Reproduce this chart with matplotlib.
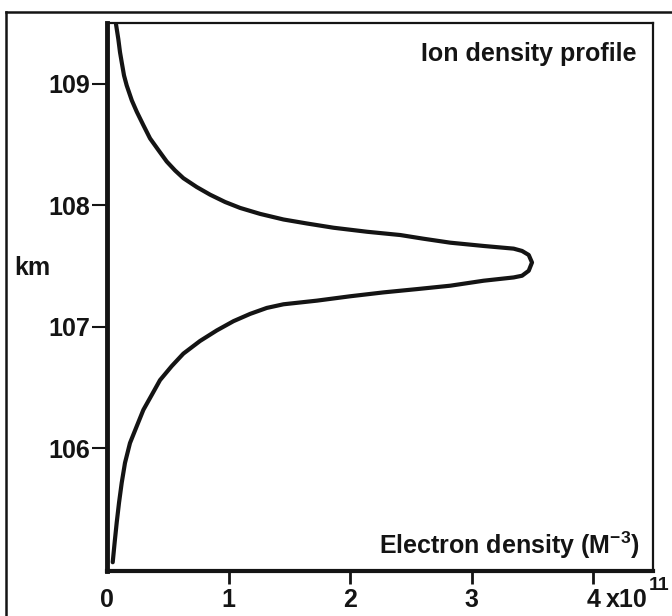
import matplotlib
matplotlib.use('Agg')
import matplotlib.pyplot as plt
from matplotlib.lines import Line2D

plt.rcParams['font.family'] = ['Liberation Sans', 'DejaVu Sans']
plt.rcParams['font.weight'] = 'bold'
plt.rcParams['mathtext.fontset'] = 'custom'
plt.rcParams['mathtext.rm'] = 'Liberation Sans:bold'
plt.rcParams['mathtext.default'] = 'rm'

# ion density profile (x in 1e11 m^-3, altitude in km)
density = [0.074, 0.093, 0.107, 0.121, 0.140, 0.162, 0.204, 0.245, 0.299,
           0.354, 0.422, 0.491, 0.560, 0.628, 0.738, 0.848, 0.971, 1.095,
           1.259, 1.451, 1.644, 1.863, 2.138, 2.412, 2.600, 2.823, 3.097,
           3.344, 3.413, 3.468, 3.495, 3.468, 3.413, 3.344, 3.097, 2.823,
           2.549, 2.274, 2.000, 1.726, 1.451, 1.314, 1.177, 1.040, 0.903,
           0.765, 0.628, 0.532, 0.436, 0.368, 0.299, 0.244, 0.189, 0.148,
           0.121, 0.099, 0.080, 0.063, 0.047]
altitude = [109.490, 109.368, 109.259, 109.177, 109.068, 108.986, 108.863,
            108.769, 108.659, 108.550, 108.455, 108.360, 108.286, 108.223,
            108.150, 108.087, 108.027, 107.978, 107.929, 107.883, 107.850,
            107.815, 107.782, 107.755, 107.725, 107.692, 107.665, 107.643,
            107.624, 107.591, 107.529, 107.461, 107.420, 107.406, 107.379,
            107.338, 107.310, 107.283, 107.251, 107.215, 107.185, 107.155,
            107.106, 107.046, 106.970, 106.883, 106.779, 106.676, 106.561,
            106.439, 106.316, 106.180, 106.043, 105.880, 105.716, 105.553,
            105.390, 105.226, 105.062]

x_ticks = [0, 1, 2, 3, 4]
x_labels = ['0', '1', '2', '3', '4']
y_ticks = [106, 107, 108, 109]
y_labels = ['106', '107', '108', '109']

ink = '#141414'

fig = plt.figure(figsize=(6.72, 6.16), dpi=100)
ax = fig.add_axes([107 / 672, 1 - 571 / 616, 546 / 672, 548 / 616])

ax.plot(density, altitude, color=ink, lw=3.0, solid_joinstyle='round',
        solid_capstyle='round')

ax.set_xlim(0, 4.49)
ax.set_ylim(104.99, 109.5)

ax.set_xticks(x_ticks)
ax.set_xticklabels(x_labels)
ax.set_yticks(y_ticks)
ax.set_yticklabels(y_labels)
ax.tick_params(axis='x', direction='out', length=9, width=2, colors=ink,
               labelsize=18, pad=3)
ax.tick_params(axis='y', direction='out', length=11, width=1.5, colors=ink,
               labelsize=18, pad=1)
ax.xaxis.get_major_ticks()[0].tick1line.set_visible(False)

for side, w in [('left', 3.5), ('bottom', 3.0), ('top', 1.6), ('right', 1.6)]:
    ax.spines[side].set_linewidth(w)
    ax.spines[side].set_color(ink)

ax.text(0.97, 0.965, 'Ion density profile', transform=ax.transAxes,
        ha='right', va='top', fontsize=18, color=ink)
ax.text(0.975, 0.018, 'Electron density (M$^{-3}$)', transform=ax.transAxes,
        ha='right', va='bottom', fontsize=18, color=ink)

fig.text(14 / 672, 1 - 268 / 616, 'km', ha='left', va='center',
         fontsize=18, color=ink)
fig.text(606 / 672, 1 - 600 / 616, 'x10', ha='left', va='center',
         fontsize=18, color=ink)
fig.text(649 / 672, 1 - 586 / 616, '11', ha='left', va='center',
         fontsize=14, color=ink)

# outer frame of the figure (cut on right and bottom)
fig.add_artist(Line2D([6 / 672, 6 / 672], [1 - 12 / 616, 0], color=ink,
                      lw=1.8, transform=fig.transFigure))
fig.add_artist(Line2D([6 / 672, 1], [1 - 12 / 616, 1 - 12 / 616], color=ink,
                      lw=1.8, transform=fig.transFigure))

fig.savefig('out.png', dpi=100, facecolor='white')
